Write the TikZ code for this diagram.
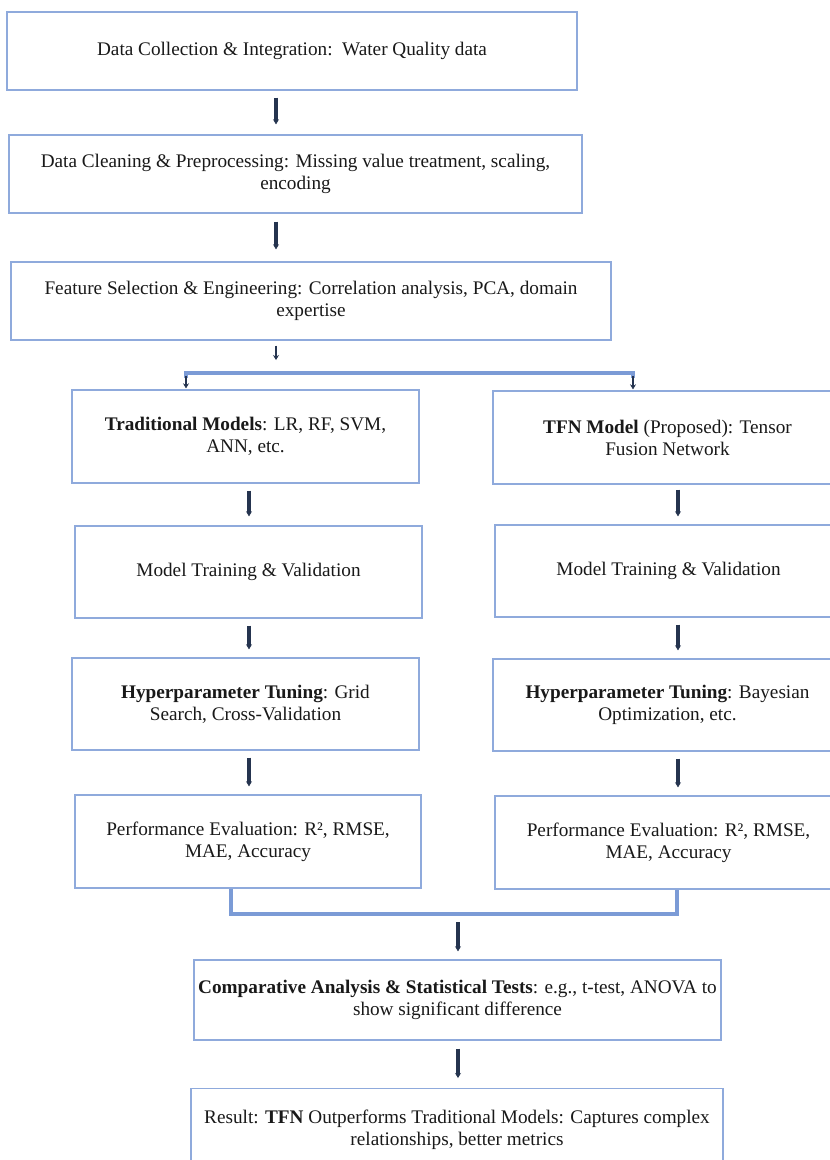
\documentclass[tikz,border=0pt]{standalone}
\usepackage{fontspec}
\setmainfont{Liberation Serif}
\usetikzlibrary{arrows.meta,calc}
\definecolor{boxblue}{HTML}{8FAADC}
\definecolor{brblue}{HTML}{7B9BD6}
\definecolor{arrdark}{HTML}{25344F}
\begin{document}
\begin{tikzpicture}[x=1bp,y=-1bp,
  box/.style={draw=boxblue, line width=1.3bp, align=center, inner sep=0pt,
    font=\fontsize{19.3}{22.2}\selectfont, text=black!90},
  arr/.style={draw=arrdark, line width=3.2bp, -{Stealth[length=5bp,width=6bp]}},
  bracket/.style={draw=brblue, line width=3.2bp},
]
\useasboundingbox (0,0) rectangle (830,1160);
\clip (0,0) rectangle (830,1160);
\fill[white] (0,0) rectangle (830,1160);

% column x positions for connectors
\coordinate (xm) at (276,0);
\coordinate (xl) at (249,0);
\coordinate (xr) at (678,0);
\coordinate (xc) at (458,0);

% top chain
\node[box, minimum width=570bp, minimum height=78bp] (b1) at (292,51)
  {Data Collection \& Integration:\ \ Water Quality data};
\node[box, minimum width=573bp, minimum height=78bp] (b2) at (295.5,174)
  {Data Cleaning \& Preprocessing: Missing value treatment, scaling,\\encoding};
\node[box, minimum width=600bp, minimum height=78bp] (b3) at (311,301)
  {Feature Selection \& Engineering: Correlation analysis, PCA, domain\\expertise};

% left column
\node[box, minimum width=347bp, minimum height=93bp] (tl) at (245.5,436.5)
  {\textbf{Traditional Models}: LR, RF, SVM,\\ANN, etc.};
\node[box, minimum width=347bp, minimum height=92bp] (ml) at (248.5,572)
  {Model Training \& Validation};
\node[box, minimum width=347bp, minimum height=92bp] (hl) at (245.5,704)
  {\textbf{Hyperparameter Tuning}: Grid\\Search, Cross-Validation};
\node[box, minimum width=346bp, minimum height=93bp] (pl) at (248,841.5)
  {Performance Evaluation: R², RMSE,\\MAE, Accuracy};

% right column
\node[box, minimum width=349bp, minimum height=93bp] (tr) at (667.5,437.5)
  {\textbf{TFN Model} (Proposed): Tensor\\Fusion Network};
\node[box, minimum width=347bp, minimum height=92bp] (mr) at (668.5,571)
  {Model Training \& Validation};
\node[box, minimum width=349bp, minimum height=92bp] (hr) at (667.5,705)
  {\textbf{Hyperparameter Tuning}: Bayesian\\Optimization, etc.};
\node[box, minimum width=347bp, minimum height=93bp] (pr) at (668.5,842.5)
  {Performance Evaluation: R², RMSE,\\MAE, Accuracy};

% bottom
\node[box, minimum width=527bp, minimum height=80bp] (comp) at (457.5,1000)
  {\textbf{Comparative Analysis \& Statistical Tests}: e.g., t-test, ANOVA to\\show significant difference};
\node[box, anchor=north, minimum width=532bp, inner ysep=21bp] (res) at (457,1088)
  {Result: \textbf{TFN} Outperforms Traditional Models: Captures complex\\relationships, better metrics};

% top arrows
\draw[arr, shorten <=7bp, shorten >=10bp] (b1.south -| xm) -- (b2.north -| xm);
\draw[arr, shorten <=8bp, shorten >=12bp] (b2.south -| xm) -- (b3.north -| xm);

% split
\coordinate (sm) at (276,373);
\coordinate (sl) at (186,373);
\coordinate (sr) at (633,373);
\draw[arr, line width=2.6bp, shorten <=5bp, shorten >=13bp] (b3.south -| xm) -- (sm);
\draw[bracket] ($(sl)+(0,5)$) -- (sl) -- (sr) -- ($(sr)+(0,5)$);
\draw[arr, line width=2.6bp, shorten >=1bp] ($(sl)+(0,3)$) -- (tl.north -| sl);
\draw[arr, line width=2.6bp, shorten >=1bp] ($(sr)+(0,3)$) -- (tr.north -| sr);

% left column arrows
\draw[arr, shorten <=7bp, shorten >=9bp] (tl.south -| xl) -- (ml.north -| xl);
\draw[arr, shorten <=7bp, shorten >=8bp] (ml.south -| xl) -- (hl.north -| xl);
\draw[arr, shorten <=7bp, shorten >=8bp] (hl.south -| xl) -- (pl.north -| xl);

% right column arrows
\draw[arr, shorten <=5bp, shorten >=8bp] (tr.south -| xr) -- (mr.north -| xr);
\draw[arr, shorten <=7bp, shorten >=8bp] (mr.south -| xr) -- (hr.north -| xr);
\draw[arr, shorten <=7bp, shorten >=8bp] (hr.south -| xr) -- (pr.north -| xr);

% merge
\coordinate (mL) at (231,914);
\coordinate (mR) at (677,914);
\draw[bracket] (pl.south -| mL) -- (mL) -- (mR) -- (pr.south -| mR);
\draw[arr, shorten <=8bp, shorten >=8bp] (mL -| xc) -- (comp.north -| xc);
\draw[arr, shorten <=8bp, shorten >=10bp] (comp.south -| xc) -- (res.north -| xc);
\end{tikzpicture}
\end{document}
